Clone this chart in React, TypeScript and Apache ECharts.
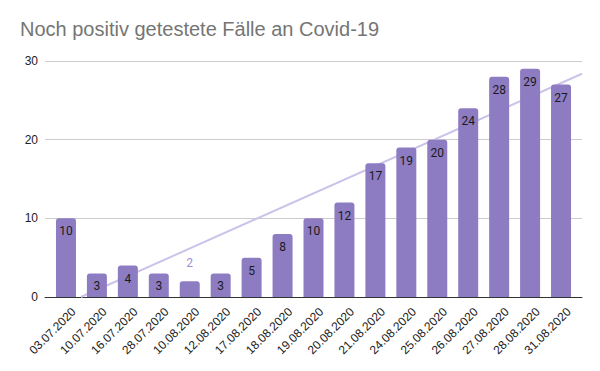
import React, { useEffect, useRef } from "react";
import * as echarts from "echarts";

const title = "Noch positiv getestete Fälle an Covid-19";
const categories = [
  "03.07.2020", "10.07.2020", "16.07.2020", "28.07.2020", "10.08.2020", "12.08.2020",
  "17.08.2020", "18.08.2020", "19.08.2020", "20.08.2020", "21.08.2020", "24.08.2020",
  "25.08.2020", "26.08.2020", "27.08.2020", "28.08.2020", "31.08.2020",
];
const values = [10, 3, 4, 3, 2, 3, 5, 8, 10, 12, 17, 19, 20, 24, 28, 29, 27];
const yTicks = [0, 10, 20, 30];

const BAR = "#8e7cc3";
const TREND = "#cbc3ea";

function regression(ys: number[]) {
  const n = ys.length;
  const mx = (n - 1) / 2;
  const my = ys.reduce((a, b) => a + b, 0) / n;
  let sxy = 0;
  let sxx = 0;
  ys.forEach((y, i) => {
    sxy += (i - mx) * (y - my);
    sxx += (i - mx) * (i - mx);
  });
  const m = sxy / sxx;
  return { m, b: my - m * mx };
}

export default function App() {
  const ref = useRef<HTMLDivElement>(null);
  useEffect(() => {
    document.body.style.margin = "0";
    if (!ref.current) return;
    const chart = echarts.init(ref.current, null, { renderer: "svg" });
    const W = 600;
    const plotL = 50.5;
    const plotR = 576.5;
    const lineL = 45;
    const lineR = 582;
    const step = (plotR - plotL) / categories.length;
    const firstCenter = plotL + step / 2;
    const xMin = (lineL - firstCenter) / step;
    const xMax = (lineR - firstCenter) / step;
    const { m, b } = regression(values);
    const x0 = Math.max(xMin, -b / m);
    const trend = [
      [x0, m * x0 + b],
      [xMax, m * xMax + b],
    ];
    const yMin = yTicks[0];
    const yMax = yTicks[yTicks.length - 1];
    const yInt = yTicks[1] - yTicks[0];

    chart.setOption({
      animation: false,
      backgroundColor: "#ffffff",
      title: {
        text: title,
        left: 15,
        top: 14,
        textStyle: {
          fontFamily: "Liberation Sans, Arial, sans-serif",
          fontSize: 20,
          fontWeight: "normal",
          color: "#757575",
        },
      },
      grid: [
        { left: plotL, right: W - plotR, top: 61, bottom: 74 },
        { left: lineL, right: W - lineR, top: 61, bottom: 74 },
      ],
      xAxis: [
        {
          type: "category",
          gridIndex: 0,
          data: categories,
          axisLine: { show: false },
          axisTick: { show: false },
          axisLabel: {
            rotate: 45,
            interval: 0,
            margin: 5,
            verticalAlign: "top",
            padding: [5, 0, 0, 0],
            fontFamily: "Liberation Sans, Arial, sans-serif",
            fontSize: 12,
            color: "#222",
          },
        },
        {
          type: "value",
          gridIndex: 1,
          min: xMin,
          max: xMax,
          show: true,
          axisLine: { show: true, onZero: false, lineStyle: { color: "#333", width: 1 } },
          axisTick: { show: false },
          axisLabel: { show: false },
          splitLine: { show: false },
        },
      ],
      yAxis: [
        {
          type: "value",
          gridIndex: 0,
          min: yMin,
          max: yMax,
          interval: yInt,
          axisLine: { show: false },
          axisTick: { show: false },
          axisLabel: { show: false },
          splitLine: { show: false },
        },
        {
          type: "value",
          gridIndex: 1,
          min: yMin,
          max: yMax,
          interval: yInt,
          axisLine: { show: false },
          axisTick: { show: false },
          axisLabel: {
            margin: 7,
            fontFamily: "Liberation Sans, Arial, sans-serif",
            fontSize: 12,
            color: "#222",
          },
          splitLine: { show: true, lineStyle: { color: "#cccccc", width: 1 } },
        },
      ],
      series: [
        {
          type: "line",
          xAxisIndex: 1,
          yAxisIndex: 1,
          data: trend,
          symbol: "none",
          lineStyle: { color: TREND, width: 2 },
          z: 1,
        },
        {
          type: "bar",
          xAxisIndex: 0,
          yAxisIndex: 0,
          barWidth: 20,
          z: 3,
          itemStyle: { color: BAR, borderRadius: [3, 3, 0, 0] },
          label: {
            show: true,
            position: "insideTop",
            distance: 7,
            fontFamily: "Roboto, sans-serif",
            fontSize: 12,
            color: "#1a1a1a",
          },
          data: values.map((v) =>
            v <= 2
              ? { value: v, label: { position: "top", distance: 12, color: "#9d90d6" } }
              : { value: v }
          ),
        },
      ],
    });
    return () => chart.dispose();
  }, []);
  return <div ref={ref} style={{ width: 600, height: 371 }} />;
}
